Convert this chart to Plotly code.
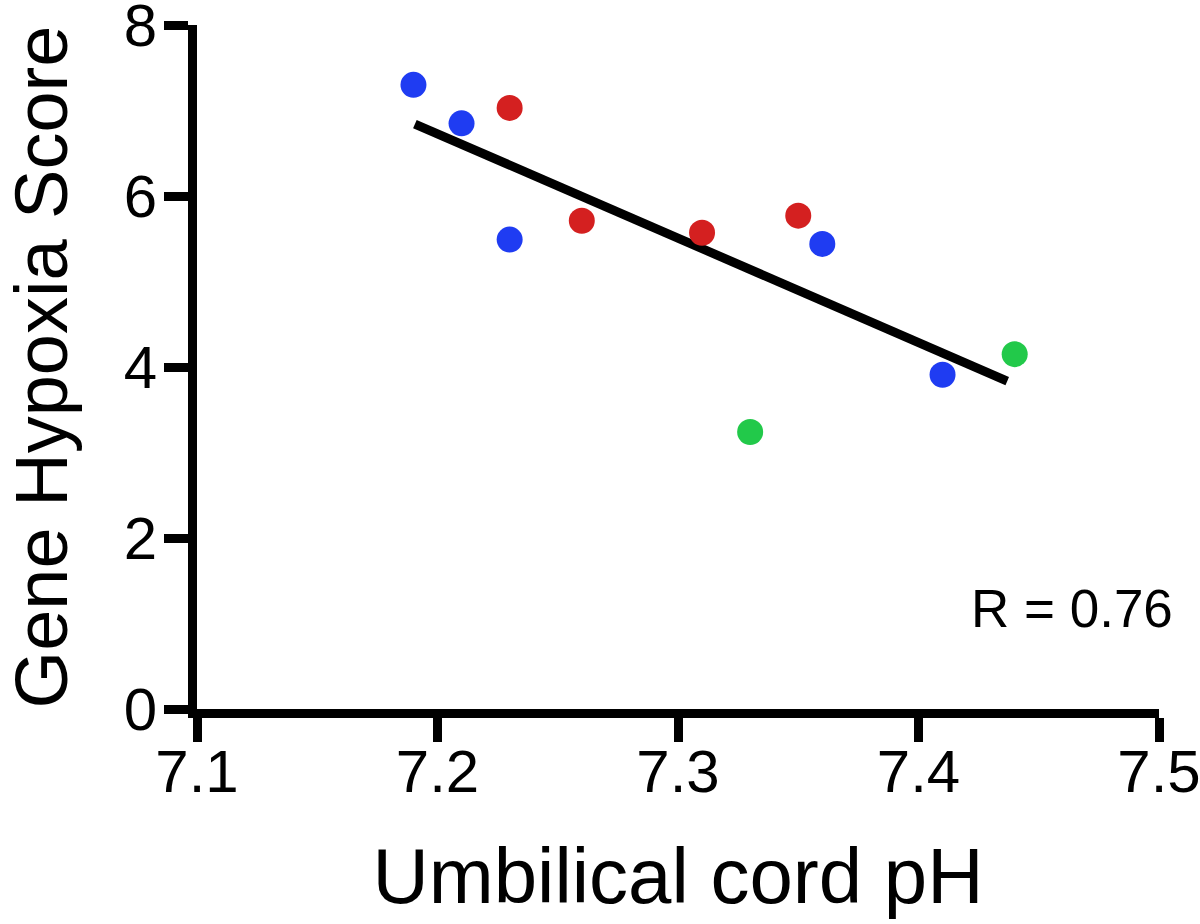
import plotly.graph_objects as go

# Data
blue_ph = [7.19, 7.21, 7.23, 7.36, 7.41]
blue_score = [7.30, 6.85, 5.49, 5.44, 3.91]

red_ph = [7.23, 7.26, 7.31, 7.35]
red_score = [7.03, 5.71, 5.57, 5.77]

green_ph = [7.33, 7.44]
green_score = [3.24, 4.15]

fit_ph = [7.1906, 7.4369]
fit_score = [6.842, 3.836]

x_ticks = [7.1, 7.2, 7.3, 7.4, 7.5]
y_ticks = [0, 2, 4, 6, 8]
r_label = "R = 0.76"

FONT = "Liberation Sans, Arial, Helvetica, sans-serif"

fig = go.Figure()
fig.add_trace(go.Scatter(x=fit_ph, y=fit_score, mode="lines",
                         line=dict(color="black", width=9), showlegend=False,
                         hoverinfo="skip"))
for xs, ys, col in [(blue_ph, blue_score, "#1f3cf2"),
                    (red_ph, red_score, "#d42020"),
                    (green_ph, green_score, "#22c94a")]:
    fig.add_trace(go.Scatter(x=xs, y=ys, mode="markers",
                             marker=dict(size=26, color=col, line=dict(width=0)),
                             showlegend=False))

fig.add_annotation(x=7.5, y=1.18, xref="x", yref="y", text=r_label,
                   showarrow=False, xanchor="right", yanchor="middle",
                   xshift=16, font=dict(family=FONT, size=53, color="black"))

fig.update_layout(
    width=1200, height=924,
    margin=dict(l=197, r=41, t=25, b=215),
    plot_bgcolor="white", paper_bgcolor="white",
    font=dict(family=FONT, color="black"),
)
fig.update_xaxes(range=[7.1, 7.5], tickvals=x_ticks,
                 ticktext=[f"{v:.1f}" for v in x_ticks],
                 showgrid=False, zeroline=False,
                 showline=True, linecolor="black", linewidth=9,
                 ticks="outside", ticklen=24, tickwidth=9, tickcolor="black",
                 ticklabeloverflow="allow", ticklabelstandoff=-22,
                 tickfont=dict(family=FONT, size=60, color="black"),
                 title=dict(text="Umbilical cord pH", standoff=48,
                            font=dict(family=FONT, size=78, color="black")),
                 automargin=False)
fig.update_yaxes(range=[0, 8], tickvals=y_ticks,
                 ticktext=[str(v) for v in y_ticks],
                 showgrid=False, zeroline=False,
                 showline=True, linecolor="black", linewidth=9,
                 ticks="outside", ticklen=24, tickwidth=9, tickcolor="black",
                 ticklabeloverflow="allow", ticklabelstandoff=-5,
                 tickfont=dict(family=FONT, size=60, color="black"),
                 title=dict(text="Gene Hypoxia Score", standoff=74,
                            font=dict(family=FONT, size=74, color="black")),
                 automargin=False)

fig.write_html("out.html",
               config={"displayModeBar": False},
               post_script="document.body.style.margin='0';")
